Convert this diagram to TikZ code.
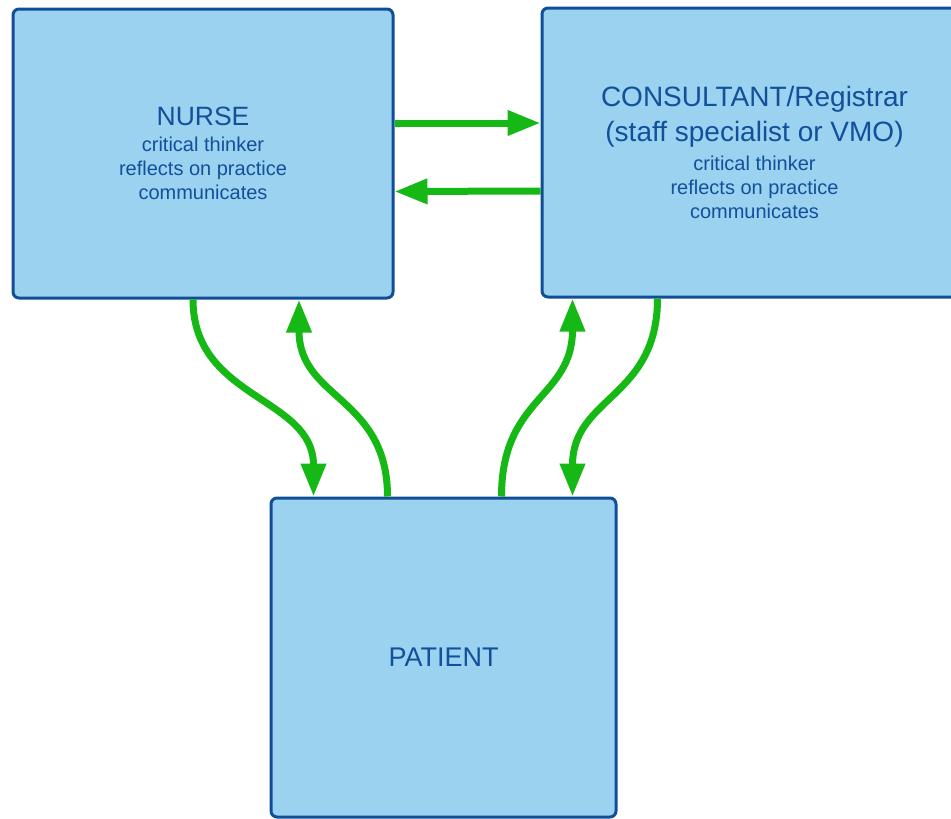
\documentclass[tikz,border=0pt]{standalone}
\usepackage{fontspec}
\setmainfont{Liberation Sans}
\usetikzlibrary{arrows.meta}
\definecolor{boxfill}{RGB}{154,210,240}
\definecolor{boxline}{RGB}{16,78,152}
\definecolor{boxtext}{RGB}{18,80,155}
\definecolor{arrgreen}{RGB}{22,184,22}
\tikzset{
  box/.style={draw=boxline, fill=boxfill, line width=3pt, rounded corners=6pt,
    text=boxtext, align=center, inner sep=0pt, font=\fontsize{20}{24}\selectfont},
  arr/.style={draw=arrgreen, line width=7pt, -{Triangle[length=33pt,width=24pt]}},
}
\newcommand{\bigtxt}{\fontsize{28}{32}\selectfont}
\begin{document}
\begin{tikzpicture}[x=1pt,y=-1pt]
\useasboundingbox (0,0) rectangle (951,819);
\clip (0,0) rectangle (951,819);
\node[box, minimum width=380pt, minimum height=289pt] (nurse) at (203,153.5)
  {{\fontsize{26.5}{30}\selectfont NURSE}\\[2pt]critical thinker\\reflects on practice\\communicates};
\node[box, minimum width=425pt, minimum height=289pt] (cons) at (754.5,152.5)
  {{\bigtxt CONSULTANT/Registrar}\\[8pt]{\bigtxt (staff specialist or VMO)}\\[5pt]critical thinker\\reflects on practice\\communicates};
\node[box, minimum width=345pt, minimum height=319pt] (pat) at (443.5,657.5)
  {{\fontsize{27}{32}\selectfont PATIENT}};
% horizontal arrows
\draw[arr] ([yshift=30.5pt]nurse.east) -- ([yshift=29.5pt]cons.west);
\draw[arr] ([yshift=-38.5pt]cons.west) -- ([yshift=-38pt]nurse.east);
% curved arrows
\draw[arr] ([xshift=-10pt]nurse.south) .. controls +(0,100) and +(0,-100) .. ([xshift=-130pt]pat.north);
\draw[arr] ([xshift=-56pt]pat.north) .. controls +(0,-100) and +(0,100) .. ([xshift=96pt]nurse.south);
\draw[arr] ([xshift=58pt]pat.north) .. controls +(0,-100) and +(0,100) .. ([xshift=-182pt]cons.south);
\draw[arr] ([xshift=-97pt]cons.south) .. controls +(0,100) and +(0,-100) .. ([xshift=129pt]pat.north);
\end{tikzpicture}
\end{document}
